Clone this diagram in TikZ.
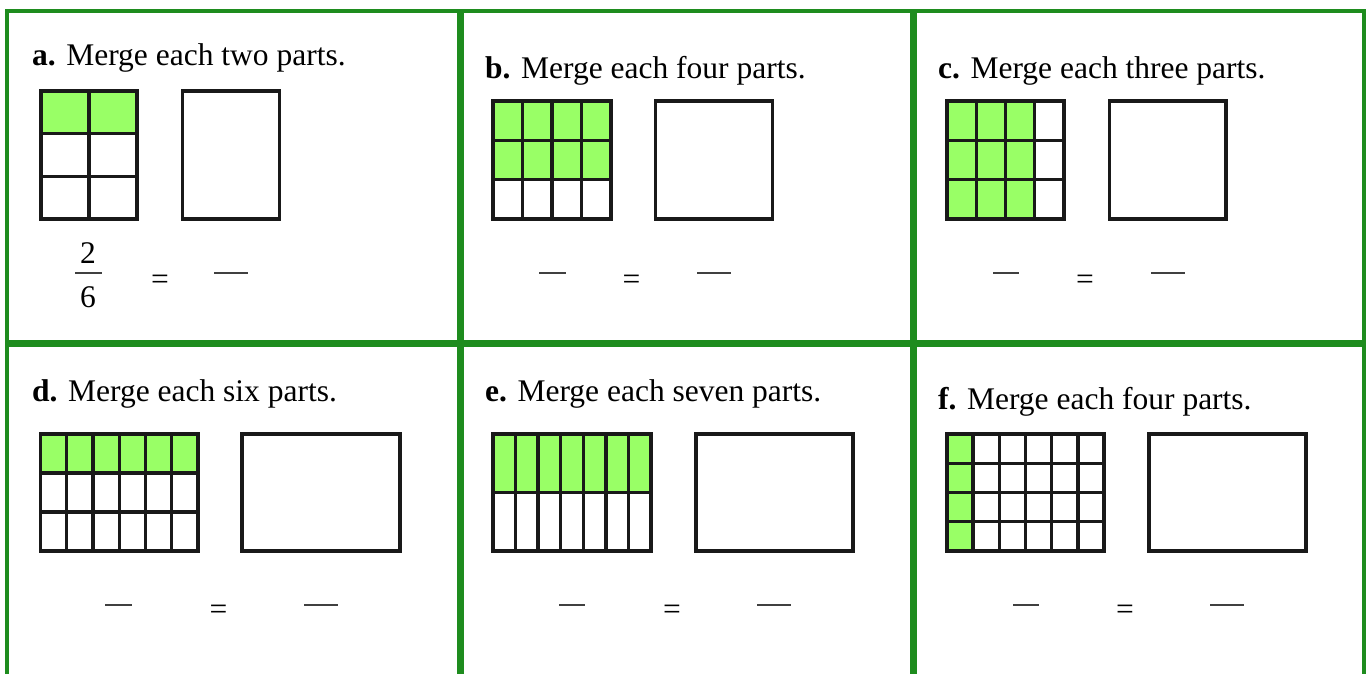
\documentclass[tikz,border=0pt]{standalone}
\usepackage{fontspec}
\setmainfont{Liberation Serif}
\usetikzlibrary{positioning}

\definecolor{leaf}{RGB}{153,255,102}
\definecolor{frame}{RGB}{30,140,30}

% grid of parts: x0, y0, width, height, columns, rows, test for shaded part
\newcommand{\partgrid}[7]{%
  \pgfmathsetmacro\partw{#3/#5}%
  \pgfmathsetmacro\parth{#4/#6}%
  \foreach \c in {1,...,#5}{%
    \foreach \r in {1,...,#6}{%
      \pgfmathtruncatemacro\isgreen{#7}%
      \ifnum\isgreen=1 \fill[leaf] ({#1+(\c-1)*\partw},{#2+(\r-1)*\parth}) rectangle ++(\partw,\parth);\fi
    }%
  }%
  \foreach \c in {1,...,#5}{%
    \foreach \r in {1,...,#6}{%
      \draw[cell] ({#1+(\c-1)*\partw},{#2+(\r-1)*\parth}) rectangle ++(\partw,\parth);
    }%
  }%
}

\begin{document}
\begin{tikzpicture}[x=1pt,y=-1pt,
  panel/.style={draw=frame,line width=3.2pt},
  cell/.style={draw=black!90,line width=3.4pt},
  blank/.style={draw=black!90,line width=3.8pt},
  task/.style={anchor=base west,inner sep=0pt,font=\fontsize{31.5}{36}\selectfont},
  sym/.style={anchor=base,inner sep=0pt,font=\fontsize{31.5}{36}\selectfont},
  slot/.style={draw=black!75,line width=2.6pt}
]
\useasboundingbox (0,0) rectangle (1368,673);
\clip (0,0) rectangle (1368,673);

% table frame
\draw[panel] (7,11) rectangle (459,342);
\draw[panel] (462,11) rectangle (912,342);
\draw[panel] (915,11) rectangle (1364,342);
\draw[panel] (7,345) rectangle (459,700);
\draw[panel] (462,345) rectangle (912,700);
\draw[panel] (915,345) rectangle (1364,700);

% a
\node[task] (ta) at (32,65) {\textbf{a.} Merge each two parts.};
\partgrid{41}{91}{96}{128}{2}{3}{\r==1}
\draw[blank] (182.5,91) rectangle (279.5,219);
\node[sym] (na) at (88,263) {2};
\node[sym] (da) at (88,307) {6};
\draw[slot] (75,273) -- (102,273);
\node[sym] (ea) at (160,289) {=};
\draw[slot] (214,273) -- (248,273);

% b
\node[task] (tb) at (485,78) {\textbf{b.} Merge each four parts.};
\partgrid{493}{101}{118}{118}{4}{3}{\r<3}
\draw[blank] (655.5,101) rectangle (772.5,219);
\draw[slot] (539,273) -- (566,273);
\node[sym] (eb) at (631.5,289) {=};
\draw[slot] (697,273) -- (731,273);

% c
\node[task] (tc) at (938,78) {\textbf{c.} Merge each three parts.};
\partgrid{947}{101}{117}{118}{4}{3}{\c<4}
\draw[blank] (1109.5,101) rectangle (1226,219);
\draw[slot] (993,273) -- (1019,273);
\node[sym] (ec) at (1085,289) {=};
\draw[slot] (1151,273) -- (1185,273);

% d
\node[task] (td) at (32,401) {\textbf{d.} Merge each six parts.};
\partgrid{40.5}{434}{157.5}{117}{6}{3}{\r==1}
\draw[blank] (242,434) rectangle (400,551);
\draw[slot] (105,605) -- (132,605);
\node[sym] (ed) at (218.5,619) {=};
\draw[slot] (304,605) -- (338,605);

% e
\node[task] (te) at (485,401) {\textbf{e.} Merge each seven parts.};
\partgrid{493}{434}{158}{117}{7}{2}{\r==1}
\draw[blank] (696,434) rectangle (853,551);
\draw[slot] (559,605) -- (585,605);
\node[sym] (ee) at (672,619) {=};
\draw[slot] (757,605) -- (791,605);

% f
\node[task] (tf) at (938,409) {\textbf{f.} Merge each four parts.};
\partgrid{947}{434}{157}{117}{6}{4}{\c==1}
\draw[blank] (1149,434) rectangle (1306,551);
\draw[slot] (1013,605) -- (1039,605);
\node[sym] (ef) at (1125,619) {=};
\draw[slot] (1210,605) -- (1244,605);
\end{tikzpicture}
\end{document}
